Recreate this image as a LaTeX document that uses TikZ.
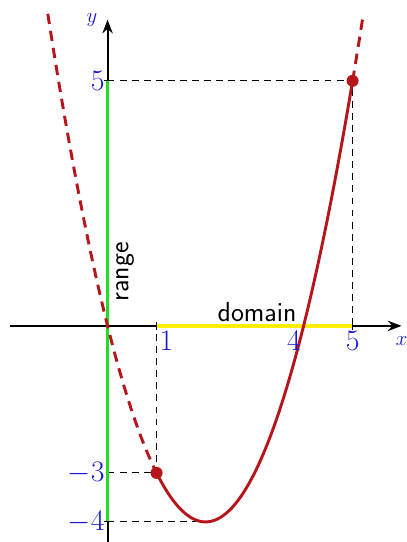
\documentclass[tikz,border=0pt]{standalone}
\usetikzlibrary{arrows.meta}
\definecolor{curvered}{HTML}{B5161B}
\definecolor{lblue}{HTML}{1A1ACC}
\definecolor{rgreen}{HTML}{22DD22}
\definecolor{dyellow}{HTML}{FFEE00}
\begin{document}
\begin{tikzpicture}[x=1cm,y=1cm,
  axis/.style={line width=1.2pt,-{Stealth[length=8pt,width=6pt]}},
  guide/.style={dashed,line width=0.5pt,dash pattern=on 4pt off 3pt},
  curve/.style={curvered,line width=1.7pt},
  ticklbl/.style={text=lblue,font=\fontsize{19}{22}\selectfont,inner sep=1.5pt},
  axlbl/.style={text=lblue,font=\fontsize{12}{14}\selectfont},
  txt/.style={font=\sffamily\fontsize{16}{19}\selectfont},
  dot/.style={circle,fill=curvered,inner sep=0pt,minimum size=7pt}]
\useasboundingbox (-2.195,-4.41) rectangle (6.098,6.65);
\coordinate (O) at (0,0);
\coordinate (x1) at (1,0);
\coordinate (x5) at (5,0);
\coordinate (y5) at (0,5);
\coordinate (ym3) at (0,-3);
\coordinate (ym4) at (0,-4);
\coordinate (vtx) at (2,-4);
% guides
\draw[guide] (y5) -- (5,5) -- (x5);
\draw[guide] (ym3) -- (1,-3) -- (x1);
\draw[guide] (ym4) -- (vtx);
% axes
\draw[axis] (-2,0) -- (6,0) node[axlbl,anchor=north,yshift=-2pt] (xl) {$x$};
\draw[axis] (0,-4.4) -- (0,6.25) node[axlbl,anchor=east,xshift=-2pt,yshift=0pt] (yl) {$y$};
% range and domain
\draw[rgreen,line width=1.8pt] (ym4) -- (y5);
\draw[dyellow,line width=2pt] (x1) -- (x5);
\draw[line width=0.6pt] (1,0.08) -- (1,-0.08);
\draw[line width=0.6pt] (5,0.08) -- (5,-0.08);
\draw[line width=0.6pt] (-0.08,5) -- (0.08,5);
\draw[line width=0.6pt] (-0.08,-4) -- (0.08,-4);
% curve
\draw[curve,dashed,dash pattern=on 6pt off 4pt] plot[domain=-1.22:1,samples=60] (\x,{\x*\x-4*\x});
\draw[curve,dashed,dash pattern=on 6pt off 4pt] plot[domain=5:5.22,samples=10] (\x,{\x*\x-4*\x});
\draw[curve] plot[domain=1:5,samples=100] (\x,{\x*\x-4*\x});
\node[dot] (p1) at (1,-3) {};
\node[dot] (p5) at (5,5) {};
% labels
\node[ticklbl,anchor=north west] (l1) at (1,-0.05) {$1$};
\node[ticklbl,anchor=north east] (l4) at (4,-0.05) {$4$};
\node[ticklbl,anchor=north] (l5) at (5,-0.05) {$5$};
\node[ticklbl,anchor=east] (ly5) at (0,5) {$5$};
\node[ticklbl,anchor=east] (lym3) at (0,-3) {$-3$};
\node[ticklbl,anchor=east] (lym4) at (0,-4) {$-4$};
\node[txt,rotate=90,anchor=north] (rng) at (0.05,1.1) {range};
\node[txt,anchor=south] (dom) at (3.05,-0.03) {domain};
\end{tikzpicture}
\end{document}
